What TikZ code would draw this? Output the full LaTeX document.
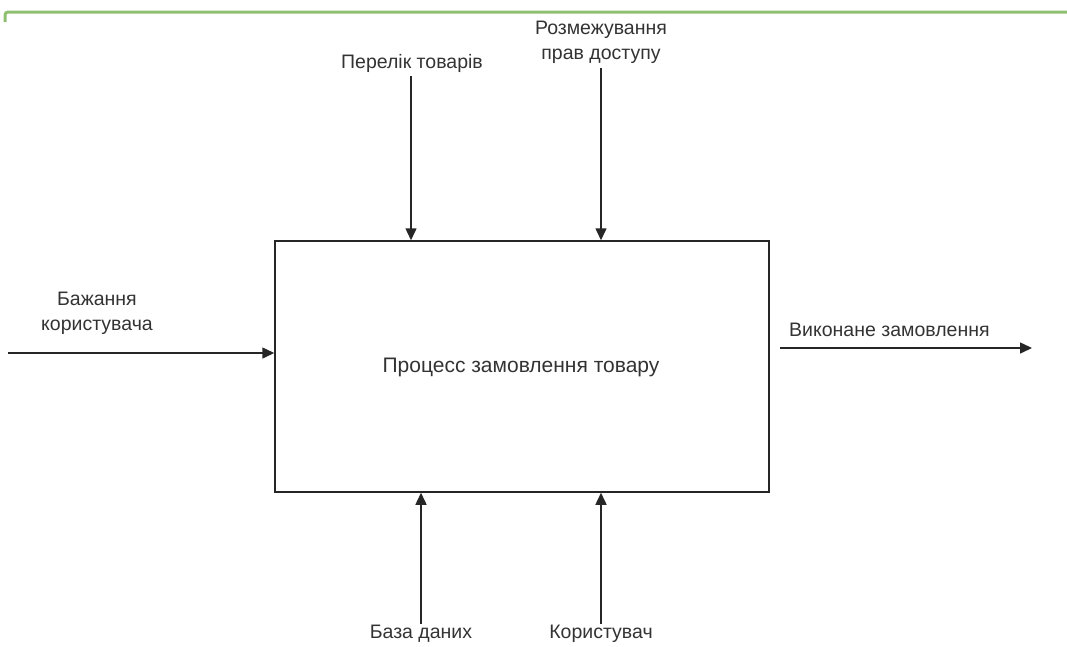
\documentclass[tikz,border=0pt]{standalone}
\usepackage{fontspec}
\setmainfont{Liberation Sans}
\usetikzlibrary{arrows.meta}
\definecolor{txtgrey}{HTML}{333333}
\definecolor{bandgreen}{HTML}{8FBF70}
\begin{document}
\begin{tikzpicture}[x=1pt,y=-1pt,
  flow/.style={line width=1.5pt,draw=black!85,-{Triangle[length=12pt,width=11pt]}},
  lbl/.style={text=txtgrey,font=\fontsize{19.5}{25}\selectfont,inner sep=0pt,align=center},
  procbox/.style={draw=black!85,line width=1.5pt,minimum width=494pt,minimum height=251pt,inner sep=0pt}]
\useasboundingbox (0,0) rectangle (1067,646);
% green band along the top edge
\draw[bandgreen,line width=3pt,rounded corners=3pt] (5,22) -- (5,12) -- (1067,12);
% process box
\node[procbox] (proc) at (522,366.5) {};
\node[lbl,font=\fontsize{21}{25}\selectfont] (ptxt) at (521,367) {Процесс замовлення товару};
% controls from above
\node[lbl] (ctl1) at (412,63) {Перелік товарів};
\node[lbl] (ctl2) at (601,42) {Розмежування\\прав доступу};
\coordinate (c1) at (411,76);
\coordinate (c2) at (601,68);
\draw[flow] (c1) -- (proc.north -| c1);
\draw[flow] (c2) -- (proc.north -| c2);
% input from the left
\node[lbl] (inp) at (97,313) {Бажання\\користувача};
\coordinate (inL) at (8,353);
\draw[flow] (inL) -- (proc.west |- inL);
% output to the right
\node[lbl,anchor=west] (outl) at (789,330) {Виконане замовлення};
\coordinate (outA) at (780,348);
\coordinate (outB) at (1032,348);
\draw[flow] (outA) -- (outB);
% mechanisms from below
\node[lbl] (mech1) at (421,634) {База даних};
\node[lbl] (mech2) at (601,634) {Користувач};
\coordinate (m1) at (421,624);
\coordinate (m2) at (601,624);
\draw[flow] (m1) -- (proc.south -| m1);
\draw[flow] (m2) -- (proc.south -| m2);
\end{tikzpicture}
\end{document}
